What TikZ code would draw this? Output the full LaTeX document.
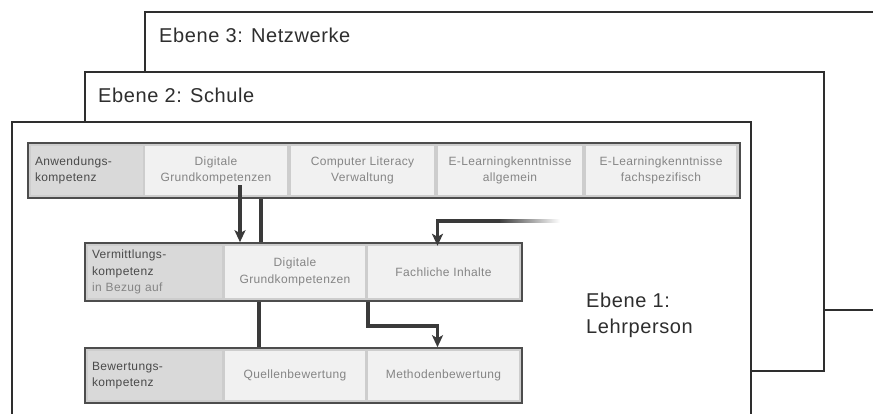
\documentclass[tikz,border=0pt]{standalone}
\usepackage{fontspec}
\setmainfont{Liberation Sans}[LetterSpace=3]
\usetikzlibrary{arrows.meta,positioning}

\definecolor{framec}{HTML}{2E2E2E}
\definecolor{linkc}{HTML}{3A3A3A}
\definecolor{boxbg}{HTML}{CDCDCD}
\definecolor{titlebg}{HTML}{D9D9D9}
\definecolor{cellbg}{HTML}{F1F1F1}
\definecolor{titletext}{HTML}{4A4A4A}
\definecolor{celltext}{HTML}{858585}

\tikzset{
  level/.style={draw=framec, line width=1.8pt, fill=white},
  levellabel/.style={anchor=base west, inner sep=0pt, text=framec, font=\fontsize{20}{26}\selectfont},
  rowbox/.style={draw=framec!85, line width=1.6pt, fill=boxbg, inner sep=0pt},
  titlecell/.style={fill=titlebg, inner xsep=4pt, inner ysep=0pt, text=titletext, align=left, font=\fontsize{12}{16.5}\selectfont},
  cell/.style={fill=cellbg, inner sep=0pt, text=celltext, align=center, font=\fontsize{12}{16.5}\selectfont},
  link/.style={draw=linkc, line width=3.6pt},
  arr/.style={link, -{Stealth[length=12pt,width=11pt,inset=3pt]}},
}

\begin{document}
\begin{tikzpicture}[x=1pt,y=-1pt]
\useasboundingbox (0,0) rectangle (873,414);
\begin{scope}
  \clip (0,0) rectangle (873,414);
  % the three levels
  \draw[level] (145,12) rectangle (900,310);
  \node[levellabel] (lbl3) at (159,43) {Ebene 3: Netzwerke};
  \draw[level] (85,72) rectangle (824,371);
  \node[levellabel] (lbl2) at (98,103) {Ebene 2: Schule};
  \draw[level] (12,122) rectangle (751,440);
\end{scope}
\node[levellabel] (lbl1a) at (586,307) {Ebene 1:};
\node[levellabel] (lbl1b) at (586,333) {Lehrperson};

% Anwendungskompetenz
\node[rowbox, minimum width=712pt, minimum height=55pt] (rowA) at (384,170.5) {};
\node[titlecell, text width=104pt, minimum height=49pt] (aTitle) at (87,170.5) {Anwendungs-\\kompetenz};
\node[cell, minimum width=142pt, minimum height=49pt] (aDig) at (216,170.5) {Digitale\\Grundkompetenzen};
\node[cell, minimum width=143pt, minimum height=49pt] (aComp) at (362.5,170.5) {Computer Literacy\\Verwaltung};
\node[cell, minimum width=144pt, minimum height=49pt] (aElA) at (510,170.5) {E-Learningkenntnisse\\allgemein};
\node[cell, minimum width=150pt, minimum height=49pt] (aElF) at (661,170.5) {E-Learningkenntnisse\\fachspezifisch};

% Vermittlungskompetenz
\node[rowbox, minimum width=437pt, minimum height=58pt] (rowB) at (303.5,272) {};
\node[titlecell, text width=126pt, minimum height=52pt] (bTitle) at (155,272) {Vermittlungs-\\kompetenz\\{\color{celltext}in Bezug auf}};
\node[cell, minimum width=140pt, minimum height=52pt] (bDig) at (295,272) {Digitale\\Grundkompetenzen};
\node[cell, minimum width=151pt, minimum height=52pt] (bFach) at (443.5,272) {Fachliche Inhalte};

% Bewertungskompetenz
\node[rowbox, minimum width=437pt, minimum height=55pt] (rowC) at (303.5,375.5) {};
\node[titlecell, text width=126pt, minimum height=49pt] (cTitle) at (155,375.5) {Bewertungs-\\kompetenz};
\node[cell, minimum width=140pt, minimum height=49pt] (cQuel) at (295,375.5) {Quellenbewertung};
\node[cell, minimum width=151pt, minimum height=49pt] (cMeth) at (443.5,375.5) {Methodenbewertung};

% connectors
\draw[arr] ([xshift=24pt,yshift=10pt]aDig.south) -- ([xshift=24pt]aDig.south |- rowB.north);
\draw[link] ([xshift=45pt]aDig.south |- rowA.south) -- ([xshift=45pt]aDig.south |- rowB.north);
\coordinate (fadeA) at (500,221);
\shade[left color=linkc, right color=white] (498,219.2) rectangle (560,222.8);
\draw[arr] (fadeA) -| ([xshift=-6pt]bFach.north);
\draw[link] ([xshift=-36pt]bDig.south |- rowB.south) -- ([xshift=-36pt]cQuel.north |- rowC.north);
\draw[arr] ([xshift=73pt]bDig.south |- rowB.south) -- ++(0,-24pt) -| ([xshift=-6pt]cMeth.north |- rowC.north);
\end{tikzpicture}
\end{document}
